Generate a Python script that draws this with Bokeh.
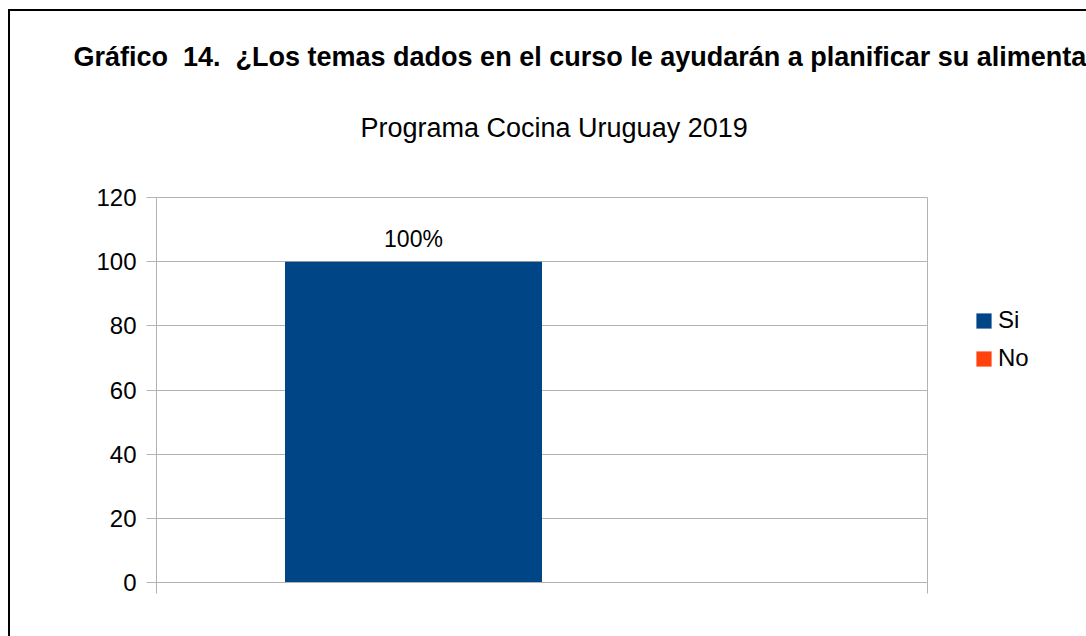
from bokeh.plotting import figure
from bokeh.models import (Range1d, FixedTicker, LabelSet, ColumnDataSource,
                          Legend, LegendItem, Title)
from bokeh.core.properties import value
from bokeh.embed import file_html
from bokeh.resources import INLINE

# ---- data ----
title_text = "Gráfico\u00a0 14.\u00a0 ¿Los temas dados en el curso le ayudarán a planificar su alimentación?"
subtitle_text = "Programa Cocina Uruguay 2019"
series = ["Si", "No"]
values = [100, 0]
bar_labels = ["100%", ""]
colors = ["#004586", "#ff420e"]
y_ticks = [0, 20, 40, 60, 80, 100, 120]

FONT = "Liberation Sans"
GREY = "#b3b3b3"

p = figure(frame_width=771, frame_height=385, output_backend="svg",
           toolbar_location=None, title=None,
           x_range=Range1d(0, len(series) + 1), y_range=Range1d(0, 120),
           min_border_left=146, min_border_right=159, min_border_top=186,
           min_border_bottom=54)
p.styles = {"margin-left": "8px", "margin-top": "9px",
            "border-left": "2px solid black", "border-top": "2px solid black"}

p.outline_line_color = GREY
p.background_fill_color = "white"
p.border_fill_color = "white"

# y axis
ya = p.yaxis[0]
ya.ticker = FixedTicker(ticks=y_ticks)
ya.axis_line_color = GREY
ya.major_tick_line_color = GREY
ya.major_tick_out = 10
ya.major_tick_in = 0
ya.minor_tick_line_color = None
ya.major_label_standoff = 10
ya.major_label_text_font = FONT
ya.major_label_text_font_size = "24px"
ya.major_label_text_color = "black"

# x axis
xa = p.xaxis[0]
xa.ticker = FixedTicker(ticks=[0, len(series) + 1])
xa.axis_line_color = GREY
xa.major_tick_line_color = GREY
xa.major_tick_out = 11
xa.major_tick_in = 0
xa.minor_tick_line_color = None
xa.major_label_overrides = {0: " ", len(series) + 1: " "}
xa.major_label_text_font_size = "10px"

p.xgrid.grid_line_color = None
p.ygrid.ticker = FixedTicker(ticks=y_ticks)
p.ygrid.grid_line_color = GREY

items = []
xs = [i + 1 for i in range(len(series))]
for i, name in enumerate(series):
    r = p.vbar(x=[xs[i]], top=[values[i]], width=1, fill_color=colors[i],
               line_color=None)
    items.append(LegendItem(label=name, renderers=[r]))

src = ColumnDataSource(dict(x=xs, y=values, t=bar_labels))
p.add_layout(LabelSet(x="x", y="y", text="t", source=src, y_offset=15,
                      text_align="center", text_baseline="alphabetic",
                      text_font=value(FONT), text_font_size=value("23px"),
                      text_color="black"))

legend = Legend(items=items, location=(47, 210), padding=0, margin=0,
                border_line_color=None, background_fill_alpha=0,
                glyph_width=19, glyph_height=19, label_standoff=5,
                label_text_font=FONT, label_text_font_size="24px",
                label_text_color="black", label_height=15, spacing=10)
p.add_layout(legend, "right")

# spacer, subtitle, title (first added is closest to the frame)
p.add_layout(Title(text=" ", text_font=FONT, text_font_size="10px",
                   standoff=31), "above")
p.add_layout(Title(text=subtitle_text, text_font=FONT, text_font_size="27px",
                   text_font_style="normal", align="left", offset=204,
                   standoff=22, text_color="black"), "above")
p.add_layout(Title(text=title_text, text_font=FONT, text_font_size="27px",
                   text_font_style="bold", align="left", offset=-83,
                   standoff=56, text_color="black"), "above")

open("out.html", "w").write(file_html(p, INLINE))
